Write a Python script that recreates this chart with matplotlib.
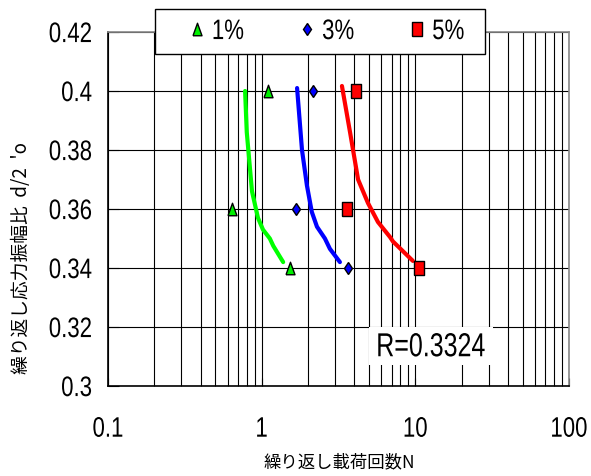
import matplotlib
matplotlib.use("Agg")
import matplotlib.pyplot as plt
from matplotlib.patches import Rectangle
from matplotlib.patheffects import AbstractPathEffect
from matplotlib.transforms import Affine2D
from matplotlib.ticker import LogLocator, NullFormatter, FixedLocator, FixedFormatter

num_font = 'Liberation Sans'
cjk = ['Noto Sans CJK JP', 'DejaVu Sans']
W, H = 591, 477


class Stretch(AbstractPathEffect):
    """Stretch text glyphs vertically around their ink centre (tall, narrow look)."""
    def __init__(self, sy, sx=1.0):
        super().__init__()
        self.sy = sy
        self.sx = sx

    def draw_path(self, renderer, gc, tpath, affine, rgbFace=None):
        ext = tpath.get_extents()
        cx = 0.5 * (ext.x0 + ext.x1)
        cy = 0.5 * (ext.y0 + ext.y1)
        t = (Affine2D().translate(-cx, -cy).scale(self.sx, self.sy)
             .translate(cx, cy) + affine)
        renderer.draw_path(gc, tpath, t, rgbFace)


# Data
levels = [0.40, 0.36, 0.34]
pts_1 = [1.10, 0.64, 1.53]
pts_3 = [2.16, 1.67, 3.64]
pts_5 = [4.11, 3.59, 10.5]

curve1_x = [0.78, 0.80, 0.865, 0.946, 1.02, 1.13, 1.19, 1.38]
curve1_y = [0.400, 0.386, 0.366, 0.357, 0.353, 0.350, 0.3475, 0.342]
curve3_x = [1.70, 1.83, 1.97, 2.12, 2.29, 2.58, 2.78, 3.23]
curve3_y = [0.401, 0.380, 0.368, 0.359, 0.354, 0.350, 0.3465, 0.342]
curve5_x = [3.33, 3.76, 4.24, 4.92, 5.71, 6.84, 7.15, 9.64]
curve5_y = [0.4017, 0.386, 0.370, 0.362, 0.3556, 0.3505, 0.349, 0.3424]

xticks = [0.1, 1, 10, 100]
xticklabels = ['0.1', '1', '10', '100']
yticks = [0.30, 0.32, 0.34, 0.36, 0.38, 0.40, 0.42]
yticklabels = ['0.3', '0.32', '0.34', '0.36', '0.38', '0.4', '0.42']

fig = plt.figure(figsize=(W/100, H/100), dpi=100)
ax = fig.add_axes([108/W, 1-387/H, (569-108)/W, (387-33)/H])

ax.set_xscale('log')
ax.set_xlim(0.1, 100)
ax.set_ylim(0.30, 0.42)

ax.plot(curve1_x, curve1_y, color='#00ff00', lw=3, zorder=3, solid_capstyle='round')
ax.plot(curve3_x, curve3_y, color='#0000ff', lw=3, zorder=3, solid_capstyle='round')
ax.plot(curve5_x, curve5_y, color='#ff0000', lw=3, zorder=3, solid_capstyle='round')

tri = [(-0.36, -0.5), (0.36, -0.5), (0.0, 0.5), (-0.36, -0.5)]
rect = [(-0.36, -0.5), (0.36, -0.5), (0.36, 0.5), (-0.36, 0.5), (-0.36, -0.5)]

h1, = ax.plot(pts_1, levels, ls='none', marker=tri, ms=9, mfc='#00f000', mec='black', mew=1, zorder=4, label='1%')
h3, = ax.plot(pts_3, levels, ls='none', marker='d', ms=6.3, mfc='#0000ff', mec='black', mew=1, zorder=4, label='3%')
h5, = ax.plot(pts_5, levels, ls='none', marker=rect, ms=9.8, mfc='#ff0000', mec='black', mew=1, zorder=4, label='5%')

ax.xaxis.set_major_locator(FixedLocator(xticks))
ax.xaxis.set_major_formatter(FixedFormatter(xticklabels))
ax.xaxis.set_minor_locator(LogLocator(base=10, subs=range(2, 10)))
ax.xaxis.set_minor_formatter(NullFormatter())
ax.yaxis.set_major_locator(FixedLocator(yticks))
ax.yaxis.set_major_formatter(FixedFormatter(yticklabels))

ax.grid(True, which='both', axis='x', color='black', lw=0.8)
ax.grid(True, which='major', axis='y', color='black', lw=0.8)
ax.set_axisbelow(True)

ax.tick_params(axis='both', which='both', direction='in', color='black',
               labelsize=16)
ax.tick_params(axis='x', which='major', length=6, pad=23.5)
ax.tick_params(axis='x', which='minor', length=6)
ax.tick_params(axis='y', which='major', length=8, pad=11.5)

for s in ['left', 'bottom']:
    ax.spines[s].set_color('black')
    ax.spines[s].set_linewidth(1.2)
for s in ['right', 'top']:
    ax.spines[s].set_color('#888888')
    ax.spines[s].set_linewidth(1.2)

ax.text(12.63, 0.31105, 'R=0.3324', ha='center', va='baseline', fontsize=18,
        family=num_font, zorder=5, path_effects=[Stretch(1.33)],
        bbox=dict(facecolor='white', edgecolor='none', pad=5))

# legend frame
fig.patches.append(Rectangle((155/W, 1-55/H), 330/W, 45/H, transform=fig.transFigure,
                             facecolor='white', edgecolor='black', lw=1.0, zorder=5))
leg = fig.legend(handles=[h1, h3, h5], loc='center left',
                 bbox_to_anchor=(190.3/W, 1-32.5/H),
                 ncol=3, frameon=False, handlelength=0.6, handletextpad=0.37,
                 columnspacing=2.54, borderaxespad=0, borderpad=0,
                 prop={'family': num_font, 'size': 16})
leg.set_zorder(6)
for t in leg.get_texts():
    t.set_path_effects([Stretch(1.27)])

fig.text(339/W, 1-462/H, '繰り返し載荷回数N', ha='center', va='center',
         fontsize=12.5, family=cjk)
fig.text(22/W, 1-258/H, "繰り返し応力振幅比  d/2  'o", ha='center', va='center',
         rotation=90, fontsize=13.5, family=cjk)

fig.canvas.draw()
for tk in ax.yaxis.get_major_ticks() + ax.xaxis.get_major_ticks():
    tk.label1.set_fontfamily(num_font)
    tk.label1.set_path_effects([Stretch(1.27)])

fig.savefig('out.png', dpi=100)
